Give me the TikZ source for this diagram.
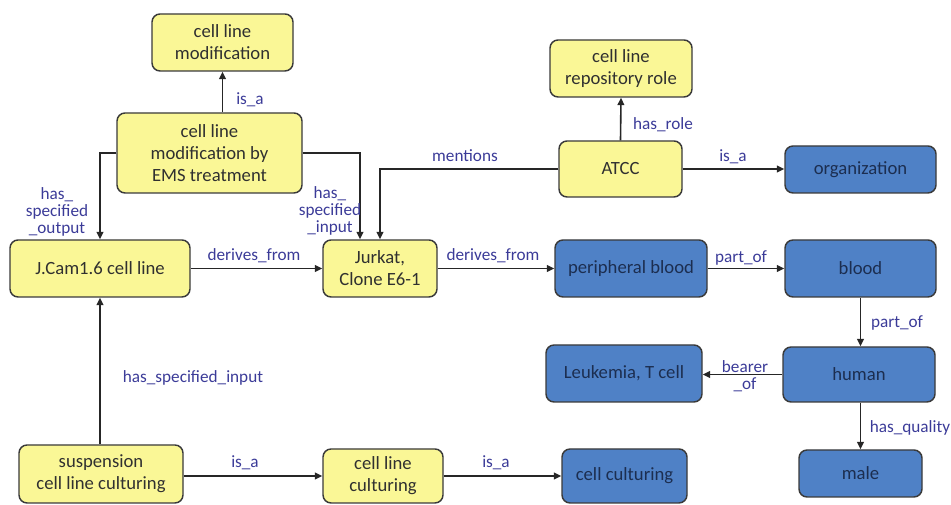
\documentclass[tikz,border=0pt]{standalone}
\usepackage{fontspec}
\setmainfont{Carlito}
\usetikzlibrary{arrows.meta}
\definecolor{yfill}{HTML}{FAF796}
\definecolor{bfill}{HTML}{4F81C6}
\definecolor{bordc}{HTML}{3A3A3A}
\definecolor{ytext}{HTML}{303030}
\definecolor{btext}{HTML}{1C2E50}
\definecolor{lbl}{HTML}{3B3B98}
\tikzset{
  box/.style={draw=bordc, line width=1.1pt, rounded corners=6pt, align=center, inner sep=0pt,
    font=\fontsize{14}{16.5}\selectfont},
  ybox/.style={box, fill=yfill, text=ytext},
  bbox/.style={box, fill=bfill, text=btext},
  sz/.style 2 args={minimum width=#1*0.75pt, minimum height=#2*0.75pt},
  arr/.style={draw=black!85, line width=1.2pt, -{Triangle[length=5.5pt,width=5pt]}},
  lab/.style={text=lbl, align=center, inner sep=0pt, font=\fontsize{12.9}{12.8}\selectfont}
}
\begin{document}
\begin{tikzpicture}[x=0.75pt,y=-0.75pt]
\useasboundingbox (0,0) rectangle (951,505);
% nodes
\node[ybox, sz={141}{57}] (mod) at (222.5,42.5) {cell line\\modification};
\node[ybox, sz={185}{80}] (ems) at (209.5,153) {cell line\\modification by\\EMS treatment};
\node[ybox, sz={180}{57}] (jcam) at (100,268.5) {J.Cam1.6 cell line};
\node[ybox, sz={114}{57}] (jurkat) at (380,268.5) {Jurkat,\\Clone E6-1};
\node[ybox, sz={164}{58}] (susp) at (101,474) {suspension\\cell line culturing};
\node[ybox, sz={120}{54}] (clc) at (383,476) {cell line\\culturing};
\node[bbox, sz={125}{54}] (cc) at (624.5,476) {cell culturing};
\node[ybox, sz={142}{57}] (repo) at (621,68.5) {cell line\\repository role};
\node[ybox, sz={123}{56}] (atcc) at (620.5,169) {ATCC};
\node[bbox, sz={151}{47}] (org) at (860.5,169.5) {organization};
\node[bbox, sz={152}{57}] (pb) at (631,268.5) {peripheral blood};
\node[bbox, sz={151}{57}] (blood) at (860.5,268.5) {blood};
\node[bbox, sz={152}{55}] (human) at (859,374.5) {human};
\node[bbox, sz={156}{57}] (leuk) at (624,373.5) {Leukemia, T cell};
\node[bbox, sz={123}{47}] (male) at (860.5,473.5) {male};
% connectors
\draw[arr] (mod.south |- ems.north) -- (mod.south);
\draw[arr] (ems.west) -| (jcam.north);
\coordinate (jin) at ([xshift=-15pt]jurkat.north);
\draw[arr] (ems.east) -| (jin);
\draw[arr] (atcc.west) -| (jurkat.north);
\draw[arr] (atcc.north) -- (repo.south);
\draw[arr] (atcc.east) -- (org.west |- atcc.east);
\draw[arr] (jcam.east) -- (jurkat.west);
\draw[arr] (jurkat.east) -- (pb.west);
\draw[arr] (pb.east) -- (blood.west);
\draw[arr] (blood.south) -- (blood.south |- human.north);
\draw[arr] (human.west) -- (leuk.east |- human.west);
\draw[arr] (human.south -| male.north) -- (male.north);
\draw[arr] (susp.north -| jcam.south) -- (jcam.south);
\draw[arr] (susp.east |- clc.west) -- (clc.west);
\draw[arr] (clc.east) -- (cc.west);
% labels
\node[lab] (l1) at (250,100) {is\_a};
\node[lab] (l2) at (57,212) {has\_\\specified\\\_output};
\node[lab] (l3) at (330,211) {has\_\\specified\\\_input};
\node[lab] (l4) at (465,156) {mentions};
\node[lab] (l5) at (663,125) {has\_role};
\node[lab] (l6) at (733,157) {is\_a};
\node[lab] (l7) at (254,256) {derives\_from};
\node[lab] (l8) at (493,256) {derives\_from};
\node[lab] (l9) at (741,258) {part\_of};
\node[lab] (l10) at (897,323) {part\_of};
\node[lab] (l11) at (745,376) {bearer\\\_of};
\node[lab] (l12) at (910,428) {has\_quality};
\node[lab] (l13) at (193,378) {has\_specified\_input};
\node[lab] (l14) at (245,463) {is\_a};
\node[lab] (l15) at (496,463) {is\_a};
\end{tikzpicture}
\end{document}
